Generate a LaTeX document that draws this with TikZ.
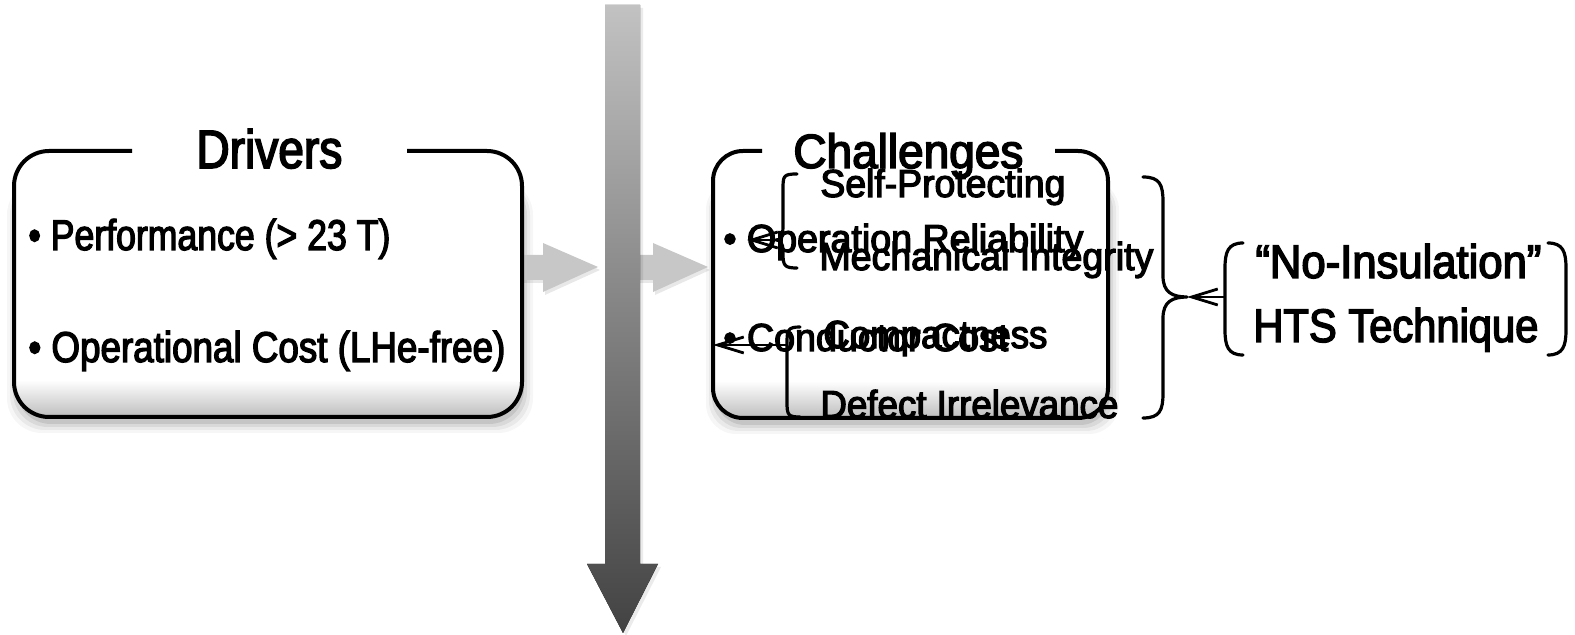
\documentclass[tikz,border=0pt]{standalone}
\usepackage{fontspec}
\setmainfont{Liberation Sans}[FakeStretch=0.86, FakeBold=3]
\usepackage{graphicx}
\usetikzlibrary{arrows.meta}

% set a text to a given width (in picture units), keeping its height
\newcommand\fitw[2]{\resizebox{\dimexpr #1pt/2\relax}{\height}{#2}}

\begin{document}
\begin{tikzpicture}[x=0.5pt,y=-0.5pt,
  txt/.style={inner sep=0pt, anchor=base west},
  titlefont/.style={font=\fontsize{27}{31}\selectfont},
  itemfont/.style={font=\fontsize{21.5}{25}\selectfont},
  subfont/.style={font=\fontsize{19.5}{23}\selectfont},
  bigfont/.style={font=\fontsize{23.5}{27}\selectfont},
  frame/.style={line width=2pt, line join=round},
  bracepath/.style={line width=1.6pt, line cap=round, line join=round},
  pointer/.style={line width=1.4pt, -{Straight Barb[length=13pt,width=8pt]}},
  blockarrow/.style={fill=black!22},
  softshadow/.style={fill=black, opacity=#1},
  glow/.style={top color=white, bottom color=black!28},
]
\useasboundingbox (0,0) rectangle (1575,635);

% ---------- panel shadows (kept below the top edge) ----------
\foreach \s/\o in {9/0.035,6/0.05,3/0.07,0/0.09}{
  \fill[softshadow=\o, rounded corners=17.5pt]
    ({14-\s+2},180) rectangle ({522+\s+2},{417+\s+7});
  \fill[softshadow=\o, rounded corners=15pt]
    ({713-\s+2},180) rectangle ({1108+\s+2},{418+\s+7});
}

% ---------- grey block arrows ----------
\coordinate (a1) at (500,267);
\coordinate (a2) at (630,267);
\fill[softshadow=0.09, shift={(a1)}, shift={(2,3)}]
  (0,-12) -- (43,-12) -- (43,-24) -- (98,0) -- (43,25) -- (43,13) -- (0,13) -- cycle;
\fill[softshadow=0.09, shift={(a2)}, shift={(2,3)}]
  (0,-12) -- (23,-12) -- (23,-24) -- (78,0) -- (23,25) -- (23,13) -- (0,13) -- cycle;
\fill[blockarrow, shift={(a1)}]
  (0,-12) -- (43,-12) -- (43,-24) -- (98,0) -- (43,25) -- (43,13) -- (0,13) -- cycle;
\fill[blockarrow, shift={(a2)}]
  (0,-12) -- (23,-12) -- (23,-24) -- (78,0) -- (23,25) -- (23,13) -- (0,13) -- cycle;

% ---------- vertical time arrow ----------
\fill[softshadow=0.08] (608,8) -- (643,8) -- (643,567) -- (661,567) -- (626,636) -- (590,567) -- (608,567) -- cycle;
\fill[top color=black!24, bottom color=black!74]
  (605,5) -- (640,5) -- (640,564) -- (658,564) -- (623,633) -- (587,564) -- (605,564) -- cycle;

% ---------- panels ----------
\fill[white, rounded corners=17.5pt] (14,151) rectangle (522,417);
\begin{scope}
  \clip[rounded corners=17.5pt] (14,151) rectangle (522,417);
  \fill[glow] (10,380) rectangle (526,420);
\end{scope}
\draw[frame, rounded corners=17.5pt] (132,151) -- (14,151) -- (14,417) -- (522,417) -- (522,151) -- (407,151);

\fill[white, rounded corners=15pt] (713,151) rectangle (1108,418);
\begin{scope}
  \clip[rounded corners=15pt] (713,151) rectangle (1108,418);
  \fill[glow] (709,381) rectangle (1112,421);
\end{scope}
\draw[frame, rounded corners=15pt] (762,151) -- (713,151) -- (713,418) -- (1108,418) -- (1108,151) -- (1055,151);

% ---------- texts ----------
\node[txt, titlefont] (drv) at (196,168) {\fitw{146}{Drivers}};
\node[txt, itemfont] (perf) at (28,250) {\fitw{362}{• Performance (> 23 T)}};
\node[txt, itemfont] (cost) at (28,362) {\fitw{477}{• Operational Cost (LHe-free)}};

\node[txt, font=\fontsize{24}{28}\selectfont] (chl) at (793,168) {\fitw{230}{Challenges}};
\node[txt, subfont] (selfp) at (820,197) {\fitw{245}{Self-Protecting}};
\node[txt, subfont] (oprel) at (723,252) {\fitw{360}{• Operation Reliability}};
\node[txt, subfont] (mech) at (819,270) {\fitw{334}{Mechanical Integrity}};
\node[txt, subfont] (cond) at (723,351) {\fitw{285}{• Conductor Cost}};
\node[txt, subfont] (comp) at (823,348) {\fitw{224}{Compactness}};
\node[txt, subfont] (defect) at (820,418) {\fitw{298}{Defect Irrelevance}};

\node[txt, bigfont] (noins) at (1255,278) {\fitw{286}{“No-Insulation”}};
\node[txt, bigfont] (hts) at (1253,342) {\fitw{285}{HTS Technique}};

% ---------- braces ----------
\coordinate (tipA) at (776,240);
\coordinate (endA) at (747,240);
\draw[bracepath] (797,174) .. controls (783,174) and (783,176) .. (783,190) -- (783,226)
  .. controls (783,238) and (780,240) .. (tipA) .. controls (780,240) and (783,242) .. (783,252) -- (783,254)
  .. controls (783,266) and (785,268) .. (797,268);

\coordinate (tipB) at (787,345);
\coordinate (endB) at (713,345);
\draw[bracepath] (800,327) .. controls (788,327) and (787,330) .. (787,343) -- (787,402)
  .. controls (787,415) and (788,417) .. (800,417);

\coordinate (tipC) at (1187,297);
\draw[bracepath] (1143,177) .. controls (1160,177) and (1163,185) .. (1163,202) -- (1163,276)
  .. controls (1163,292) and (1172,297) .. (tipC) .. controls (1172,297) and (1163,302) .. (1163,318) -- (1163,393)
  .. controls (1163,410) and (1160,418) .. (1143,418);

\coordinate (parL) at (1225,297);
\draw[bracepath] (1243,243) .. controls (1228,243) and (1225,252) .. (1225,268) -- (1225,330)
  .. controls (1225,346) and (1228,355) .. (1243,355);
\draw[bracepath] (1548,243) .. controls (1563,243) and (1566,252) .. (1566,268) -- (1566,330)
  .. controls (1566,346) and (1563,355) .. (1548,355);

% ---------- pointers ----------
\draw[pointer] (tipA) -- (endA);
\draw[pointer] (tipB) -- (endB);
\draw[pointer] (parL) -- (tipC);
\end{tikzpicture}
\end{document}
